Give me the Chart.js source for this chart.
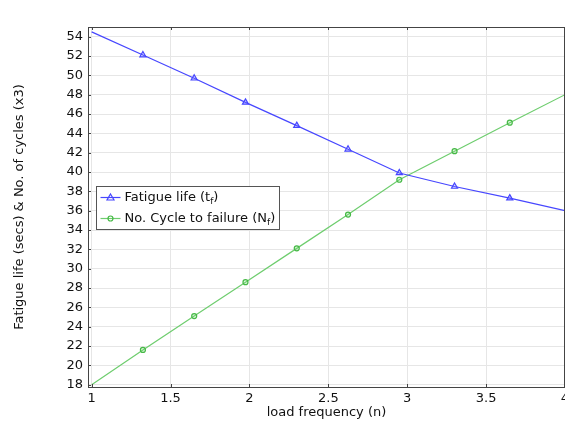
<!DOCTYPE html>
<html>
<head>
<meta charset="utf-8">
<script src="https://cdn.jsdelivr.net/npm/chart.js@4.4.0/dist/chart.umd.min.js"></script>
<style>
  html, body { margin: 0; padding: 0; background: #fff; overflow: hidden; }
  #wrap { width: 565px; height: 421px; }
</style>
</head>
<body>
<div id="wrap"><canvas id="fatigueChart"></canvas></div>
<script>
// load frequency (n)
const frequency = [1, 1.325, 1.65, 1.975, 2.3, 2.625, 2.95, 3.3, 3.65, 4];
// fatigue life (secs)
const fatigueLife = [54.5, 52.1, 49.7, 47.2, 44.8, 42.35, 39.9, 38.5, 37.3, 36.0];
// no. of cycles to failure (x3)
const cyclesToFailure = [18.0, 21.6, 25.1, 28.6, 32.1, 35.6, 39.2, 42.15, 45.1, 48.0];

const xTicks = [1, 1.5, 2, 2.5, 3, 3.5, 4];
const yTicks = [18, 20, 22, 24, 26, 28, 30, 32, 34, 36, 38, 40, 42, 44, 46, 48, 50, 52, 54];

const FONT = "'DejaVu Sans', sans-serif";
const blue = "rgb(70, 70, 255)";
const green = "rgb(110, 205, 110)";

function pts(ys) {
  return frequency.map((x, i) => ({ x: x, y: ys[i] }));
}
// markers on interior points only
function markers(r) {
  return frequency.map((x, i) => (i === 0 || i === frequency.length - 1) ? 0 : r);
}

// frame + inward tick marks like the original plot
const framePlugin = {
  id: "frame",
  afterDraw(chart) {
    const { ctx, chartArea: a, scales } = chart;
    ctx.save();
    ctx.strokeStyle = "#444";
    ctx.lineWidth = 1;
    ctx.strokeRect(a.left + 0.5, a.top + 0.5, a.right - a.left - 1, a.bottom - a.top);
    ctx.beginPath();
    xTicks.forEach(v => {
      const px = Math.round(scales.x.getPixelForValue(v)) + 0.5;
      ctx.moveTo(px, a.bottom); ctx.lineTo(px, a.bottom - 3);
      ctx.moveTo(px, a.top); ctx.lineTo(px, a.top + 3);
    });
    yTicks.forEach(v => {
      const py = Math.round(scales.y.getPixelForValue(v)) + 0.5;
      ctx.moveTo(a.left, py); ctx.lineTo(a.left + 3, py);
    });
    ctx.stroke();
    ctx.restore();
  }
};

// legend box drawn inside the plot, with subscripts
const legendPlugin = {
  id: "boxLegend",
  afterDraw(chart) {
    const ctx = chart.ctx;
    const x0 = 96.5, y0 = 186.5, w = 183, h = 43;
    ctx.save();
    ctx.fillStyle = "#fff";
    ctx.fillRect(x0, y0, w, h);
    ctx.strokeStyle = "#555";
    ctx.lineWidth = 1;
    ctx.strokeRect(x0, y0, w, h);
    const rows = [
      { main: "Fatigue life (t", sub: "f", end: ")", ds: chart.data.datasets[0] },
      { main: "No. Cycle to failure (N", sub: "f", end: ")", ds: chart.data.datasets[1] }
    ];
    rows.forEach((r, i) => {
      const cy = y0 + 11 + i * 21;
      ctx.strokeStyle = r.ds.borderColor;
      ctx.lineWidth = 1.2;
      ctx.beginPath();
      ctx.moveTo(x0 + 4, cy); ctx.lineTo(x0 + 24, cy);
      ctx.stroke();
      ctx.strokeStyle = r.ds.pointBorderColor;
      ctx.beginPath();
      if (r.ds.pointStyle === "triangle") {
        ctx.moveTo(x0 + 14, cy - 3.5); ctx.lineTo(x0 + 17.5, cy + 2.5); ctx.lineTo(x0 + 10.5, cy + 2.5); ctx.closePath();
      } else {
        ctx.arc(x0 + 14, cy, 2.5, 0, Math.PI * 2);
      }
      ctx.stroke();
      ctx.fillStyle = "#111";
      ctx.textBaseline = "middle";
      ctx.font = "13px " + FONT;
      let tx = x0 + 28;
      ctx.fillText(r.main, tx, cy);
      tx += ctx.measureText(r.main).width;
      ctx.font = "9px " + FONT;
      ctx.fillText(r.sub, tx, cy + 4);
      tx += ctx.measureText(r.sub).width;
      ctx.font = "13px " + FONT;
      ctx.fillText(r.end, tx, cy);
    });
    ctx.restore();
  }
};

new Chart(document.getElementById("fatigueChart"), {
  type: "line",
  data: {
    datasets: [
      {
        label: "Fatigue life (tf)",
        data: pts(fatigueLife),
        borderColor: blue,
        pointBorderColor: blue,
        pointBackgroundColor: "rgba(120,120,255,0.25)",
        pointStyle: "triangle",
        pointRadius: markers(3.5),
        borderWidth: 1.2,
        pointBorderWidth: 1.2,
        tension: 0
      },
      {
        label: "No. Cycle to failure (Nf)",
        data: pts(cyclesToFailure),
        borderColor: green,
        pointBorderColor: "rgb(70, 185, 70)",
        pointBackgroundColor: "rgba(120,220,120,0.25)",
        pointStyle: "circle",
        pointRadius: markers(2.5),
        borderWidth: 1.2,
        pointBorderWidth: 1.2,
        tension: 0
      }
    ]
  },
  options: {
    responsive: true,
    maintainAspectRatio: false,
    animation: false,
    layout: { padding: { top: 27, right: 0, left: 0, bottom: 0 } },
    plugins: { legend: { display: false }, tooltip: { enabled: false } },
    scales: {
      x: {
        type: "linear",
        min: 0.977,
        max: 4,
        afterBuildTicks: s => { s.ticks = xTicks.map(v => ({ value: v })); },
        afterFit: s => { s.height = 34; s.paddingLeft = 0; s.paddingRight = 0; },
        grid: { color: "#e6e6e6", drawTicks: false },
        border: { display: false },
        ticks: { color: "#111", padding: 4, maxRotation: 0, font: { family: FONT, size: 13 }, callback: v => String(v) },
        title: { display: true, text: "load frequency (n)", color: "#111", padding: { top: 0, bottom: 1 }, font: { family: FONT, size: 13 } }
      },
      y: {
        min: 17.76,
        max: 55,
        afterBuildTicks: s => { s.ticks = yTicks.map(v => ({ value: v })); },
        afterFit: s => { s.width = 88; },
        grid: { color: "#e6e6e6", drawTicks: false },
        border: { display: false },
        ticks: { color: "#111", padding: 5, font: { family: FONT, size: 13 }, callback: v => String(v) },
        title: { display: true, text: "Fatigue life (secs) & No. of cycles (x3)", color: "#111", padding: { top: 12, bottom: 0 }, font: { family: FONT, size: 13 } }
      }
    }
  },
  plugins: [framePlugin, legendPlugin]
});
</script>
</body>
</html>
